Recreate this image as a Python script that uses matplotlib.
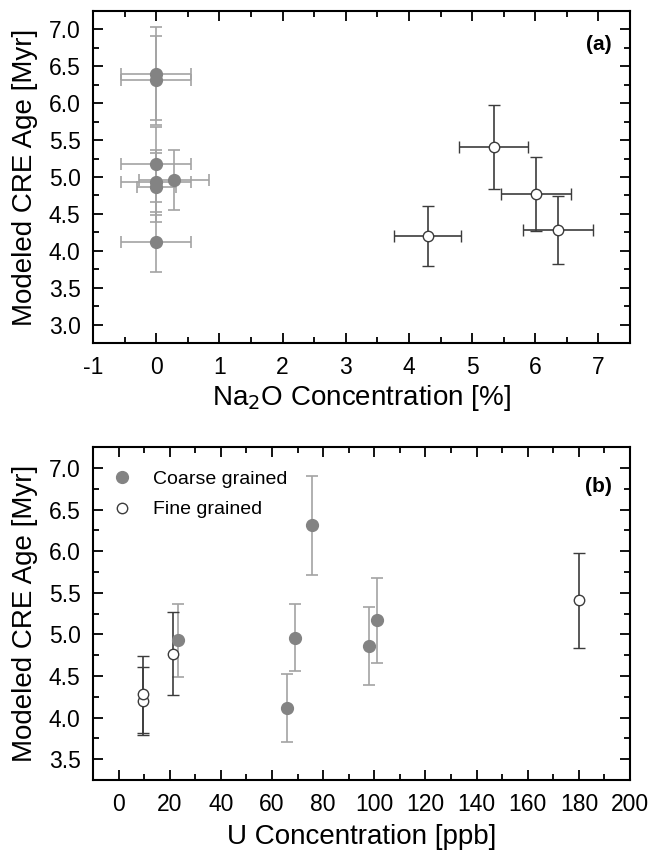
import matplotlib.pyplot as plt
from matplotlib.ticker import MultipleLocator

plt.rcParams['font.family'] = ['Liberation Sans', 'DejaVu Sans']
plt.rcParams['axes.unicode_minus'] = False

# coarse grained samples
coarse_na = [0.0, 0.0, 0.0, 0.28, 0.0, 0.0, 0.0]
coarse_na_err = [0.55, 0.55, 0.55, 0.55, 0.55, 0.31, 0.55]
coarse_age = [6.40, 6.31, 5.17, 4.96, 4.93, 4.86, 4.12]
coarse_age_err = [0.63, 0.60, 0.51, 0.40, 0.44, 0.47, 0.41]

# U concentration only for six of them (no U for the 6.40 one)
coarse_u = [75.5, 101.0, 69.0, 23.2, 98.0, 66.0]
coarse_u_age = [6.31, 5.17, 4.96, 4.93, 4.86, 4.12]
coarse_u_err = [0.60, 0.51, 0.40, 0.44, 0.47, 0.41]

# fine grained samples
fine_na = [4.30, 5.34, 6.01, 6.36]
fine_na_err = [0.53, 0.55, 0.55, 0.55]
fine_age = [4.20, 5.41, 4.77, 4.28]
fine_age_err = [0.41, 0.57, 0.50, 0.46]
fine_u = [9.4, 180.0, 21.4, 9.4]

gray = '#838383'
light = '#a3a3a3'
dark = '#3c3c3c'


def style(ax):
  for s in ax.spines.values():
    s.set_linewidth(1.5)
  ax.tick_params(which='both', direction='in', top=True, right=True,
                 labelsize=16.5, width=1.3)
  ax.tick_params(which='major', length=7, pad=9)
  ax.tick_params(which='minor', length=4)


fig = plt.figure(figsize=(6.51, 8.58), dpi=100)
ax1 = fig.add_axes([0.1429, 0.5999, 0.8249, 0.3876])
ax2 = fig.add_axes([0.1429, 0.0909, 0.8249, 0.3878])

# (a)
ax1.errorbar(coarse_na, coarse_age, xerr=coarse_na_err, yerr=coarse_age_err,
             fmt='o', ms=8.5, mfc=gray, mec=gray, ecolor=light, elinewidth=1.2,
             capsize=4, capthick=1.2, zorder=3)
ax1.errorbar(fine_na, fine_age, xerr=fine_na_err, yerr=fine_age_err,
             fmt='o', ms=7.5, mfc='white', mec=dark, mew=1.0, ecolor=dark,
             elinewidth=1.2, capsize=4, capthick=1.2, zorder=3)
ax1.set_xlim(-1, 7.5)
ax1.set_ylim(2.75, 7.25)
ax1.xaxis.set_major_locator(MultipleLocator(1))
ax1.xaxis.set_minor_locator(MultipleLocator(0.5))
ax1.set_yticks([3.0, 3.5, 4.0, 4.5, 5.0, 5.5, 6.0, 6.5, 7.0])
ax1.set_yticklabels(['3.0', '3.5', '4.0', '4.5', '5.0', '5.5', '6.0', '6.5', '7.0'])
ax1.yaxis.set_minor_locator(MultipleLocator(0.25))
ax1.set_xlabel('Na$_2$O Concentration [%]', fontsize=20, labelpad=3)
ax1.set_ylabel('Modeled CRE Age [Myr]', fontsize=20, labelpad=8)
ax1.text(0.966, 0.897, '(a)', transform=ax1.transAxes, ha='right', va='center',
         fontsize=15, fontweight='bold')
style(ax1)

# (b)
ax2.errorbar(coarse_u, coarse_u_age, yerr=coarse_u_err,
             fmt='o', ms=8.5, mfc=gray, mec=gray, ecolor=light, elinewidth=1.2,
             capsize=4, capthick=1.2, zorder=3, label='Coarse grained')
ax2.errorbar(fine_u, fine_age, yerr=fine_age_err,
             fmt='o', ms=7.5, mfc='white', mec=dark, mew=1.0, ecolor=dark,
             elinewidth=1.2, capsize=4, capthick=1.2, zorder=3, label='Fine grained')
ax2.set_xlim(-10, 200)
ax2.set_ylim(3.25, 7.25)
ax2.xaxis.set_major_locator(MultipleLocator(20))
ax2.xaxis.set_minor_locator(MultipleLocator(10))
ax2.set_yticks([3.5, 4.0, 4.5, 5.0, 5.5, 6.0, 6.5, 7.0])
ax2.set_yticklabels(['3.5', '4.0', '4.5', '5.0', '5.5', '6.0', '6.5', '7.0'])
ax2.yaxis.set_minor_locator(MultipleLocator(0.25))
ax2.set_xlabel('U Concentration [ppb]', fontsize=20, labelpad=6)
ax2.set_ylabel('Modeled CRE Age [Myr]', fontsize=20, labelpad=8)
ax2.text(0.966, 0.883, '(b)', transform=ax2.transAxes, ha='right', va='center',
         fontsize=15, fontweight='bold')
h, l = ax2.get_legend_handles_labels()
h = [x[0] for x in h]
ax2.legend(h, l, loc='upper left', bbox_to_anchor=(0.035, 0.93),
           frameon=False, fontsize=14, handlelength=1.0, handletextpad=1.1,
           borderaxespad=0, borderpad=0, labelspacing=0.65)
style(ax2)

fig.savefig('out.png', dpi=100)
